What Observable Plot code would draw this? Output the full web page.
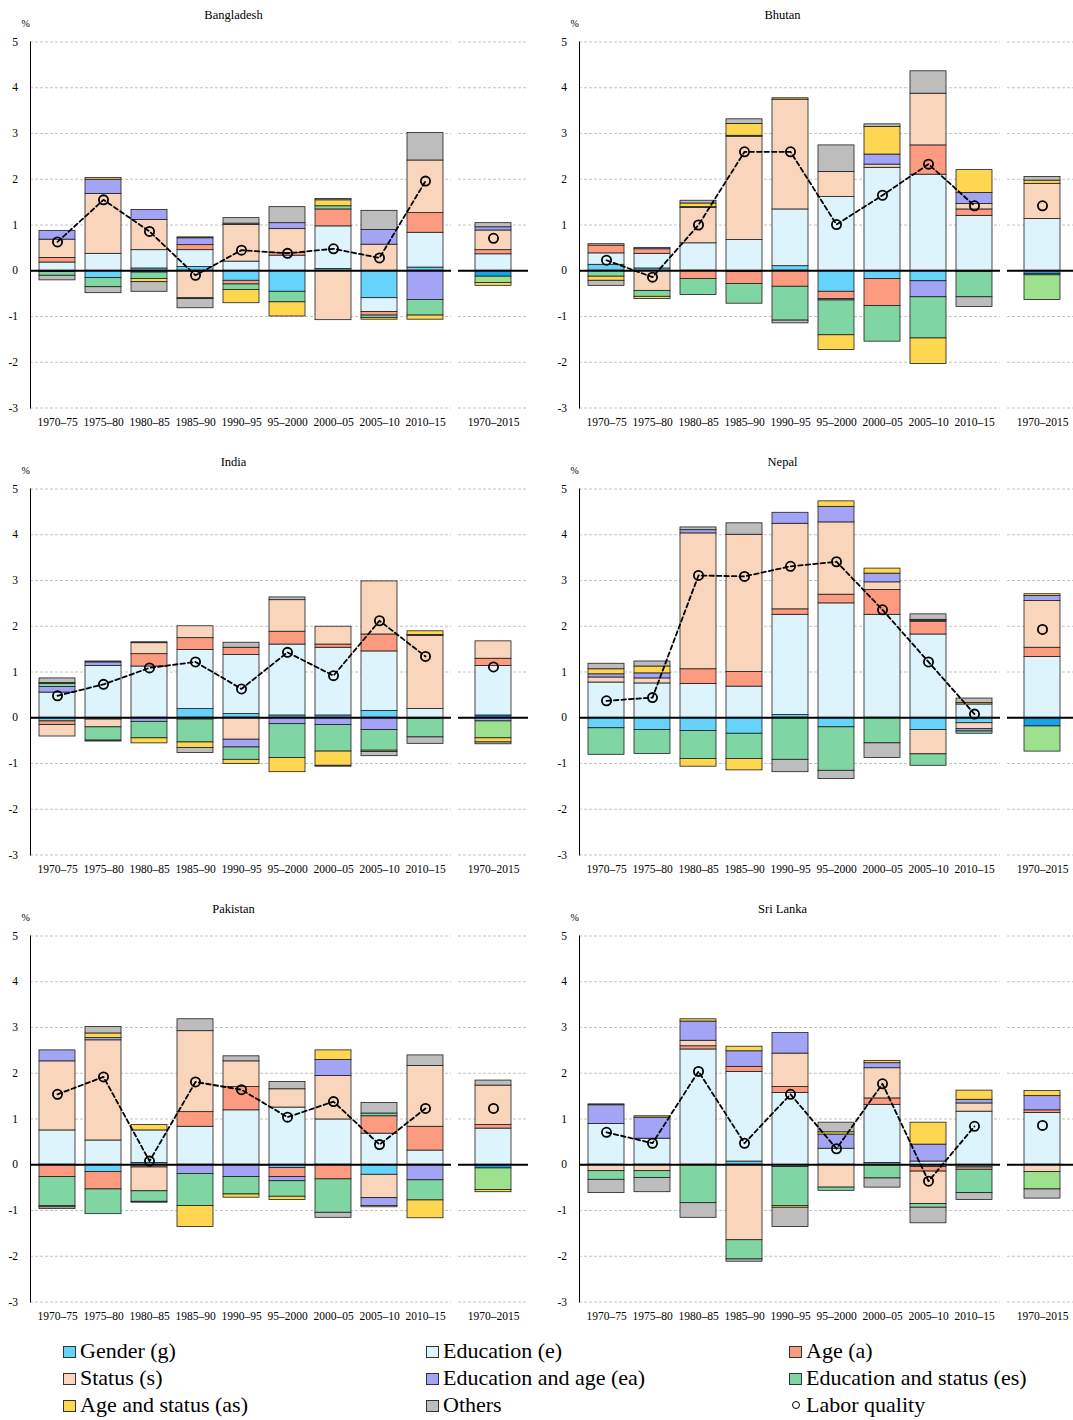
<!DOCTYPE html>
<html>
<head>
<meta charset="utf-8">
<script src="https://cdn.jsdelivr.net/npm/d3@7"></script>
<script src="https://cdn.jsdelivr.net/npm/@observablehq/plot@0.6"></script>
<style>
  html, body { margin: 0; padding: 0; background: #fff; overflow: hidden; }
  #root { position: relative; width: 1073px; height: 1420px; overflow: hidden; font-family: "Liberation Serif", "Times New Roman", serif; }
  .panel { position: absolute; width: 549px; height: 447px; }
  .panel svg { position: absolute; top: 0; overflow: visible; font-family: "Liberation Serif", "Times New Roman", serif; }
  .leg { position: absolute; font-size: 22px; line-height: 22px; color: #000; white-space: nowrap; }
  .sw { position: absolute; width: 11px; height: 10px; border: 1px solid #333; }
  .circ { position: absolute; width: 6px; height: 6px; border: 1.6px solid #000; border-radius: 50%; }
</style>
</head>
<body>
<div id="root"></div>
<script>
// ---------- data ----------
const periods = ["1970–75", "1975–80", "1980–85", "1985–90", "1990–95", "95–2000", "2000–05", "2005–10", "2010–15"];
const overallPeriod = "1970–2015";
const yTicks = [-3, -2, -1, 0, 1, 2, 3, 4, 5];

const componentKeys = ["g", "e", "a", "s", "ea", "es", "as", "o"];
const componentNames = ["Gender (g)", "Education (e)", "Age (a)", "Status (s)", "Education and age (ea)", "Education and status (es)", "Age and status (as)", "Others"];
const componentColors = ["#66d3fc", "#def4fc", "#fd9b80", "#f8d5bb", "#a4a4f6", "#80d6a3", "#fed650", "#bdbdbd"];
const overallColors = ["#14a5e8", "#def4fc", "#fd9b80", "#f8d5bb", "#a4a4f6", "#9de18f", "#fed650", "#bdbdbd"];
const qualityName = "Labor quality";

const countries = ["Bangladesh", "Bhutan", "India", "Nepal", "Pakistan", "Sri Lanka"];

// rows: g, e, a, s, ea, es, as, others; columns: the nine periods, then 1970–2015
const bangladesh = [
  [-0.03, -0.16, 0.05, 0.08, -0.22, -0.46, 0.04, -0.60, 0.07, -0.13],
  [0.18, 0.37, 0.40, 0.37, 0.20, 0.33, 0.93, -0.30, 0.76, 0.36],
  [0.10, 0, -0.04, 0.11, -0.08, 0.06, 0.37, -0.08, 0.43, 0.09],
  [0.40, 1.31, 0.66, -0.60, 0.80, 0.52, -1.08, 0.57, 1.15, 0.43],
  [0.19, 0.31, 0.22, 0.15, 0.03, 0.13, 0, 0.32, -0.64, 0.07],
  [-0.08, -0.20, -0.14, -0.02, -0.12, -0.23, 0.07, -0.05, -0.34, -0.14],
  [0, 0.04, -0.07, 0.02, -0.29, -0.31, 0.13, -0.04, -0.09, -0.06],
  [-0.10, -0.13, -0.21, -0.20, 0.12, 0.35, 0.03, 0.42, 0.60, 0.09]
];
const bangladeshQuality = [0.63, 1.55, 0.86, -0.10, 0.45, 0.38, 0.48, 0.28, 1.96, 0.71];

const bhutan = [
  [0.13, 0.05, 0, -0.03, 0.10, -0.46, -0.18, -0.23, -0.02, -0.07],
  [0.25, 0.32, 0.60, 0.67, 1.24, 1.61, 2.25, 2.10, 1.20, 1.13],
  [0.17, 0.10, -0.18, -0.26, -0.35, -0.16, -0.59, 0.64, 0.14, -0.03],
  [0.03, -0.44, 0.77, 2.26, 2.40, 0.55, 0.07, 1.13, 0.12, 0.77],
  [0, 0.03, 0.02, 0.02, 0, -0.03, 0.22, -0.35, 0.24, 0],
  [-0.13, -0.13, -0.35, -0.43, -0.74, -0.76, -0.78, -0.90, -0.56, -0.54],
  [-0.09, -0.05, 0.08, 0.26, 0.03, -0.32, 0.60, -0.56, 0.50, 0.07],
  [-0.11, 0, 0.06, 0.10, -0.06, 0.58, 0.06, 0.49, -0.21, 0.08]
];
const bhutanQuality = [0.23, -0.14, 1.00, 2.60, 2.60, 1.01, 1.65, 2.33, 1.42, 1.42];

const india = [
  [-0.08, -0.04, 0, 0.19, 0.08, 0.05, 0.05, 0.15, -0.02, 0.05],
  [0.55, 1.13, 1.12, 1.29, 1.29, 1.55, 1.48, 1.30, 0.19, 1.08],
  [-0.08, 0, 0.27, 0.26, 0.16, 0.28, 0.07, 0.37, 0, 0.16],
  [-0.25, -0.17, 0.24, 0.26, -0.48, 0.69, 0.39, 1.16, 1.60, 0.38],
  [0.12, 0.08, -0.09, -0.04, -0.17, -0.14, -0.16, -0.27, 0.02, -0.08],
  [0.07, -0.29, -0.36, -0.50, -0.27, -0.74, -0.58, -0.45, -0.41, -0.37],
  [0.02, 0.02, -0.11, -0.12, -0.09, -0.31, -0.31, -0.03, 0.08, -0.09],
  [0.10, -0.02, 0.02, -0.11, 0.11, 0.06, -0.02, -0.09, -0.14, -0.04]
];
const indiaQuality = [0.48, 0.73, 1.09, 1.22, 0.63, 1.43, 0.92, 2.12, 1.34, 1.11];

const nepal = [
  [-0.23, -0.27, -0.29, -0.35, 0.06, -0.21, 0, -0.27, -0.12, -0.19],
  [0.77, 0.75, 0.74, 0.68, 2.19, 2.50, 2.25, 1.82, 0.29, 1.33],
  [0, 0, 0.32, 0.32, 0.12, 0.19, 0.54, 0.28, 0, 0.20],
  [0.11, 0.11, 2.97, 3.00, 1.87, 1.58, 0.17, -0.53, -0.13, 1.02],
  [0.07, 0.11, 0.07, 0, 0.24, 0.34, 0.19, 0.02, -0.05, 0.11],
  [-0.58, -0.52, -0.61, -0.55, -0.92, -0.95, -0.56, -0.25, -0.05, -0.55],
  [0.11, 0.15, -0.17, -0.25, 0, 0.12, 0.11, 0.02, 0.03, 0.04],
  [0.12, 0.11, 0.06, 0.25, -0.27, -0.18, -0.32, 0.12, 0.10, 0]
];
const nepalQuality = [0.37, 0.44, 3.11, 3.09, 3.31, 3.41, 2.36, 1.22, 0.08, 1.93];

const pakistan = [
  [0, -0.16, 0.04, 0, 0, -0.07, 0, -0.22, 0, -0.08],
  [0.75, 0.53, 0.71, 0.83, 1.19, 1.25, 0.99, 0.68, 0.31, 0.79],
  [-0.27, -0.38, -0.06, 0.32, 0.51, -0.20, -0.32, 0.38, 0.52, 0.08],
  [1.51, 2.19, -0.52, 1.77, 0.56, 0.40, 0.95, -0.51, 1.33, 0.86],
  [0.24, 0.05, 0, -0.20, -0.27, -0.09, 0.35, -0.17, -0.34, 0],
  [-0.63, -0.54, -0.23, -0.70, -0.38, -0.34, -0.73, 0.06, -0.44, -0.47],
  [-0.03, 0.10, 0.12, -0.46, -0.07, -0.07, 0.21, -0.03, -0.39, -0.05],
  [-0.04, 0.14, -0.02, 0.26, 0.11, 0.16, -0.11, 0.23, 0.23, 0.11]
];
const pakistanQuality = [1.54, 1.92, 0.08, 1.81, 1.64, 1.04, 1.38, 0.44, 1.23, 1.23];

const sriLanka = [
  [0, 0, 0, 0.07, -0.05, 0, 0.04, -0.05, -0.06, 0],
  [0.89, 0.57, 2.52, 1.96, 1.57, 0.35, 1.27, 0.07, 1.16, 1.13],
  [0, 0, 0.07, 0.11, 0.13, 0, 0.14, -0.10, -0.05, 0.06],
  [-0.14, -0.14, 0.12, -1.65, 0.73, -0.50, 0.66, -0.71, 0.18, -0.16],
  [0.41, 0.46, 0.42, 0.34, 0.45, 0.31, 0.11, 0.37, 0.08, 0.31],
  [-0.19, -0.15, -0.84, -0.42, -0.85, -0.07, -0.30, -0.08, -0.51, -0.38],
  [0.02, 0.03, 0.05, 0.10, -0.04, 0.05, 0.05, 0.48, 0.20, 0.11],
  [-0.29, -0.31, -0.32, -0.05, -0.42, 0.21, -0.20, -0.34, -0.15, -0.20]
];
const sriLankaQuality = [0.71, 0.47, 2.04, 0.47, 1.54, 0.35, 1.77, -0.36, 0.84, 0.86];

const countryValues = [bangladesh, bhutan, india, nepal, pakistan, sriLanka];
const countryQuality = [bangladeshQuality, bhutanQuality, indiaQuality, nepalQuality, pakistanQuality, sriLankaQuality];

// ---------- drawing ----------
const FONT = '"Liberation Serif", "Times New Roman", serif';
const baseStyle = {fontFamily: FONT, fontSize: "11.5px", color: "#000", background: "transparent", overflow: "visible"};
const H = 447, MT = 41.5, MB = 39.5;
const root = document.getElementById("root");

function buildPanel(name, values, quality, idx) {
  const col = idx % 2, row = Math.floor(idx / 2);
  const rows = [];
  componentKeys.forEach((k, ci) => {
    values[ci].forEach((v, pi) => {
      if (v !== 0) rows.push({
        period: pi < periods.length ? periods[pi] : overallPeriod,
        comp: k,
        color: pi < periods.length ? componentColors[ci] : overallColors[ci],
        value: v,
        overall: pi >= periods.length
      });
    });
  });
  const mainRows = rows.filter(d => !d.overall);
  const overallRows = rows.filter(d => d.overall);
  const lq = periods.map((p, i) => ({period: p, value: quality[i]}));
  const lqOverall = [{period: overallPeriod, value: quality[periods.length]}];

  const grid = Plot.gridY(yTicks, {stroke: "#c4c4c4", strokeOpacity: 1, strokeDasharray: "3,2"});
  const barOpts = {x: "period", y: "value", z: "comp", fill: "color", stroke: "#1e1e1e", strokeWidth: 0.8};
  const xAxis = Plot.axisX({tickSize: 0, tickPadding: 10, label: null, fontFamily: FONT, fontSize: 11.5});

  const main = Plot.plot({
    width: 451, height: H, marginLeft: 30, marginRight: 0, marginTop: MT, marginBottom: MB,
    style: baseStyle,
    x: {domain: periods, paddingInner: 0.22, paddingOuter: 0.11, label: null},
    y: {domain: [-3, 5], label: null},
    color: {type: "identity"},
    marks: [
      grid,
      Plot.barY(mainRows, barOpts),
      Plot.ruleY([0], {stroke: "#000", strokeWidth: 2.2}),
      Plot.frame({anchor: "left", stroke: "#000", strokeWidth: 1}),
      Plot.axisY(yTicks, {tickSize: 0, tickPadding: 12.5, tickFormat: d => String(d), label: null, fontFamily: FONT, fontSize: 11.5}),
      xAxis,
      Plot.line(lq, {x: "period", y: "value", stroke: "#000", strokeWidth: 1.8, strokeDasharray: "4.5,3"}),
      Plot.dot(lq, {x: "period", y: "value", r: 4.6, stroke: "#000", strokeWidth: 1.8, fill: "none"}),
      Plot.text([name], {text: d => d, frameAnchor: "top", dx: -7.5, dy: -32, fontSize: 12.5, fontFamily: FONT}),
      Plot.text(["%"], {text: d => d, frameAnchor: "top-left", dx: -9, dy: -22, fontSize: 10, fontFamily: FONT})
    ]
  });

  const overall = Plot.plot({
    width: 70, height: H, marginLeft: 0, marginRight: 0, marginTop: MT, marginBottom: MB,
    style: baseStyle,
    x: {domain: [overallPeriod], paddingInner: 0.49, paddingOuter: 0.245, label: null},
    y: {domain: [-3, 5], label: null, axis: null},
    color: {type: "identity"},
    marks: [
      grid,
      Plot.barY(overallRows, barOpts),
      Plot.ruleY([0], {stroke: "#000", strokeWidth: 2.2}),
      xAxis,
      Plot.dot(lqOverall, {x: "period", y: "value", r: 4.6, stroke: "#000", strokeWidth: 1.8, fill: "none"})
    ]
  });

  const div = document.createElement("div");
  div.className = "panel";
  div.style.left = (col * 549) + "px";
  div.style.top = (row * 447) + "px";
  main.style.left = "0px";
  overall.style.left = "458px";
  div.appendChild(main);
  div.appendChild(overall);
  root.appendChild(div);
}

countries.forEach((c, i) => buildPanel(c, countryValues[i], countryQuality[i], i));

// ---------- legend ----------
const legendItems = componentNames.map((n, i) => ({name: n, color: componentColors[i], kind: "box"}))
  .concat([{name: qualityName, kind: "circle"}]);
legendItems.forEach((item, i) => {
  const col = i % 3, row = Math.floor(i / 3);
  const x = 63 + col * 363, y = 1351.5 + row * 27;
  if (item.kind === "box") {
    const sw = document.createElement("div");
    sw.className = "sw";
    sw.style.left = x + "px";
    sw.style.top = (y - 6) + "px";
    sw.style.background = item.color;
    root.appendChild(sw);
  } else {
    const c = document.createElement("div");
    c.className = "circ";
    c.style.left = (x + 3) + "px";
    c.style.top = (y - 4.5) + "px";
    root.appendChild(c);
  }
  const t = document.createElement("div");
  t.className = "leg";
  t.textContent = item.name;
  t.style.left = (x + 17) + "px";
  t.style.top = (y - 12) + "px";
  root.appendChild(t);
});
</script>
</body>
</html>
